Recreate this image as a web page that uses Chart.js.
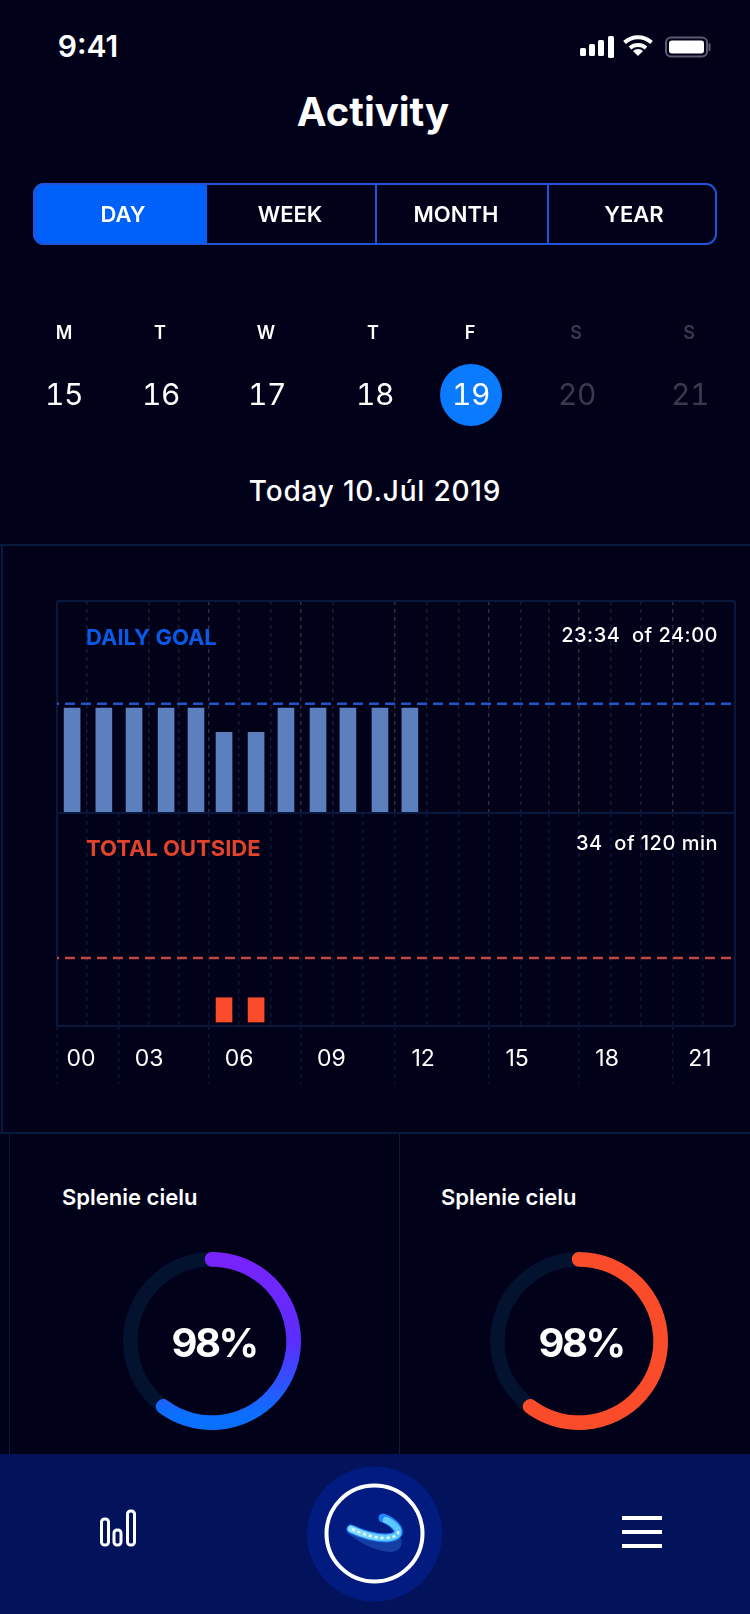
<!DOCTYPE html>
<html>
<head>
<meta charset="utf-8">
<title>Activity</title>
<script src="https://cdn.jsdelivr.net/npm/chart.js@4"></script>
<style>
  html, body { margin: 0; padding: 0; background: #01011a; }
  #page { position: relative; width: 750px; height: 1614px; overflow: hidden; background: #01011a; color: #fff; font-family: Inter, sans-serif; }
  .t { position: absolute; white-space: nowrap; line-height: 1; transform: translate(-50%, -50%); }
  .l { position: absolute; white-space: nowrap; line-height: 1; transform: translateY(-50%); }
  .r { position: absolute; white-space: nowrap; line-height: 1; transform: translate(-100%, -50%); }
  .rule { position: absolute; background: #0a1a3c; }
  canvas { position: absolute; }
  svg { position: absolute; left: 0; top: 0; }
  #tabs { position: absolute; left: 33px; top: 183px; width: 684px; height: 62px; box-sizing: border-box; border: 2px solid #1f55d5; border-radius: 11px; }
  #activeTab { position: absolute; left: 33px; top: 183px; width: 174px; height: 62px; background: #0060fa; border-radius: 11px 0 0 11px; }
  #nav { position: absolute; left: 0; top: 1454px; width: 750px; height: 160px; background: #02135b; }
</style>
</head>
<body>
<div id="page">
  <div class="t" style="left:88px;top:46px;font-size:30px;font-weight:600">9:41</div>
  <div class="t" style="left:373px;top:112px;font-size:40px;font-weight:700">Activity</div>

  <div id="activeTab"></div>
  <div id="tabs"></div>
  <div class="rule" style="left:375px;top:183px;width:2px;height:62px;background:#1f55d5"></div>
  <div class="rule" style="left:547px;top:183px;width:2px;height:62px;background:#1f55d5"></div>

  <div style="position:absolute;left:440px;top:364px;width:62px;height:62px;border-radius:50%;background:#0a7aff"></div>

  <div class="t" style="left:375px;top:491px;font-size:28px;font-weight:500;letter-spacing:.8px">Today 10.Júl 2019</div>

  <!-- section frames -->
  <div class="rule" style="left:0;top:544px;width:750px;height:2px"></div>
  <div class="rule" style="left:1px;top:544px;width:2px;height:588px"></div>
  <div class="rule" style="left:0;top:1132px;width:750px;height:2px"></div>
  <div class="rule" style="left:9px;top:1132px;width:1px;height:322px"></div>
  <div class="rule" style="left:399px;top:1132px;width:1px;height:322px"></div>

  <canvas id="goal-chart" width="710" height="224" style="left:40px;top:590px"></canvas>
  <canvas id="outside-chart" width="710" height="300" style="left:40px;top:803px"></canvas>

  <div class="l" style="left:86px;top:637px;font-size:22px;font-weight:700;color:#0a5ae6">DAILY GOAL</div>
  <div class="r" style="left:718px;top:635px;font-size:20px;font-weight:500;letter-spacing:.5px">23:34&nbsp; of 24:00</div>
  <div class="l" style="left:86px;top:848px;font-size:22px;font-weight:700;color:#e2432c">TOTAL OUTSIDE</div>
  <div class="r" style="left:718px;top:843px;font-size:20px;font-weight:500;letter-spacing:.5px">34&nbsp; of 120 min</div>

  <div class="l" style="left:62px;top:1197px;font-size:22px;font-weight:600">Splenie cielu</div>
  <div class="l" style="left:441px;top:1197px;font-size:22px;font-weight:600">Splenie cielu</div>

  <canvas id="ring-one" width="200" height="200" style="left:112px;top:1241px"></canvas>
  <canvas id="ring-two" width="200" height="200" style="left:479px;top:1241px"></canvas>
  <div class="t" style="left:214px;top:1343px;font-size:40px;font-weight:700;letter-spacing:-2.5px">98%</div>
  <div class="t" style="left:581px;top:1343px;font-size:40px;font-weight:700;letter-spacing:-2.5px">98%</div>

  <div id="nav"></div>

  <svg width="750" height="1614" viewBox="0 0 750 1614">
    <defs>
      <linearGradient id="tray" x1="0" y1="0" x2="1" y2="0">
        <stop offset="0" stop-color="#8fe0ff"/>
        <stop offset="1" stop-color="#55c4ff"/>
      </linearGradient>
    </defs>
    <!-- status bar -->
    <rect x="580" y="48" width="6" height="8" rx="1.5" fill="#fff"/>
    <rect x="589" y="44" width="6" height="12" rx="1.5" fill="#fff"/>
    <rect x="598" y="40" width="6" height="16" rx="1.5" fill="#fff"/>
    <rect x="608" y="36" width="6" height="22" rx="1.5" fill="#fff"/>
    <path d="M624.5 42.5 A20 20 0 0 1 651.5 42.5" fill="none" stroke="#fff" stroke-width="4"/>
    <path d="M630 48 A12.5 12.5 0 0 1 646 48" fill="none" stroke="#fff" stroke-width="4"/>
    <path d="M638 56 L633 51 A7 7 0 0 1 643 51 Z" fill="#fff"/>
    <rect x="666" y="37.5" width="41" height="19" rx="5" fill="none" stroke="#5a5a70" stroke-width="2"/>
    <rect x="669" y="40.5" width="35" height="13" rx="3" fill="#fff"/>
    <rect x="708.5" y="43" width="2" height="8" rx="1" fill="#5a5a70"/>
    <!-- nav bar -->
    <circle cx="374.5" cy="1534" r="67.5" fill="#021b80"/>
    <circle cx="374.5" cy="1533.5" r="48" fill="none" stroke="#fff" stroke-width="4"/>
    <path d="M347 1533 Q372 1552 392 1552 Q404 1550 401 1538 L386 1541 L351 1529 Z" fill="#1c4bb0" opacity=".75"/>
    <path d="M351 1529 Q370 1538 386 1538 Q402 1537 397 1528 Q392 1521 383 1518" fill="none" stroke="#1f86ff" stroke-width="9" stroke-linecap="round"/>
    <path d="M351 1529 Q370 1538 386 1538 Q402 1537 397 1528 Q392 1522 386 1520" fill="none" stroke="url(#tray)" stroke-width="6.5" stroke-linecap="round"/>
    <path d="M352 1529 Q370 1538 386 1538 Q402 1537 397 1528" fill="none" stroke="#e2f9ff" stroke-width="2.5" stroke-dasharray="3 3"/>
    <rect x="101.5" y="1519" width="7" height="26" rx="3" fill="none" stroke="#fff" stroke-width="3"/>
    <rect x="114" y="1530" width="7" height="15" rx="3" fill="none" stroke="#fff" stroke-width="3"/>
    <rect x="127.5" y="1511" width="7" height="34" rx="3" fill="none" stroke="#fff" stroke-width="3"/>
    <rect x="622" y="1516" width="40" height="4" fill="#fff"/>
    <rect x="622" y="1530" width="40" height="4" fill="#fff"/>
    <rect x="622" y="1544" width="40" height="4" fill="#fff"/>
  </svg>
</div>

<script>
'use strict';

// **** Data ****

let tabNames = ['DAY', 'WEEK', 'MONTH', 'YEAR'];
let dayLetters = ['M', 'T', 'W', 'T', 'F', 'S', 'S'];
let dayNumbers = ['15', '16', '17', '18', '19', '20', '21'];

// x positions on a 0-22 slot axis, the sketch does not space them evenly
let barSlots = [0.49, 1.52, 2.5, 3.54, 4.51, 5.42, 6.46, 7.43, 8.47, 9.44, 10.48, 11.45];
let goalValues = [60, 60, 60, 60, 60, 46, 46, 60, 60, 60, 60, 60];
let outsideValues = [null, null, null, null, null, 14, 14, null, null, null, null, null];

let lineSlots = [0, 22];
let goalLine = [62.5, 62.5];
let outsideLine = [37, 37];

let gridSlots = [0, 0.97, 2.01, 2.99, 3.96, 4.93, 5.91, 6.94, 7.92, 8.96, 9.93, 10.97, 12, 13.04, 14.02, 15.06, 15.96, 16.94, 17.98, 18.95, 19.99, 20.96, 22];
let longSlots = [0, 2.01, 4.93, 7.92, 10.97, 14.02, 16.94, 19.99];
let goalHiddenSlots = [2.01, 9.93];

let hourLabels = ['00', '03', '06', '09', '12', '15', '18', '21'];
let hourSlots = [0.78, 2.99, 5.91, 8.9, 11.88, 14.93, 17.85, 20.86];

let ringOneValues = [63, 37];
let ringTwoValues = [63, 37];

// **** Colors ****

let frameColor = '#09173a';
let trackColor = '#03132f';

// **** Text built from the lists ****

let page = document.getElementById('page');

function addText(text, x, y, style) {
  let el = document.createElement('div');
  el.className = 't';
  el.textContent = text;
  el.style.cssText = `left:${x}px;top:${y}px;${style}`;
  page.appendChild(el);
}

let tabCentres = [123, 290, 456, 634];
tabNames.forEach((name, i) => addText(name, tabCentres[i], 214, 'font-size:22px;font-weight:600'));

let letterCentres = [64, 160, 266, 373, 470, 576, 689];
let numberCentres = [64, 161, 267, 375, 471, 577, 690];
dayLetters.forEach((letter, i) => {
  let color = i > 4 ? '#3a3a4e' : '#fff';
  addText(letter, letterCentres[i], 333, `font-size:18px;font-weight:600;color:${color}`);
  addText(dayNumbers[i], numberCentres[i], 394, `font-size:30px;font-weight:400;letter-spacing:-.5px;font-variant-numeric:tabular-nums;color:${color}`);
});

// **** Shared helpers ****

function slotTicks(scale, slots) {
  scale.ticks = [...new Set(slots)].sort((a, b) => a - b).map((value) => ({ value: value }));
}

function edgeDash(ctx) {
  return ctx.tick.value === 0 || ctx.tick.value === 22 ? [] : [4, 4];
}

function yScale(min, max) {
  return {
    min: min,
    max: max,
    ticks: { display: false },
    grid: { color: frameColor, lineWidth: 2, drawTicks: false },
    border: { display: false },
    afterBuildTicks: (scale) => { scale.ticks = [{ value: min }, { value: max }]; },
    afterFit: (scale) => { scale.width = 0; }
  };
}

function panelDatasets(values, barColor, lineValues, lineColor) {
  return [
    {
      type: 'line',
      data: lineSlots.map((slot, i) => ({ x: slot, y: lineValues[i] })),
      borderColor: lineColor,
      borderWidth: 2.5,
      borderDash: [10, 6],
      borderDashOffset: 8,
      pointRadius: 0,
      order: 0
    },
    {
      type: 'bar',
      data: barSlots.map((slot, i) => ({ x: slot, y: values[i] })),
      backgroundColor: barColor,
      barThickness: 16,
      order: 1
    }
  ];
}

// **** Daily goal chart ****

new Chart(document.getElementById('goal-chart').getContext('2d'), {
  type: 'bar',
  data: { datasets: panelDatasets(goalValues, '#5c7fbd', goalLine, '#2355c9') },
  options: {
    responsive: false,
    animation: false,
    layout: { padding: { left: 17, right: 15, top: 11, bottom: 1 } },
    plugins: { legend: { display: false }, tooltip: { enabled: false } },
    scales: {
      x: {
        type: 'linear',
        min: 0,
        max: 22,
        offset: false,
        ticks: { display: false },
        afterBuildTicks: (scale) => slotTicks(scale, gridSlots),
        afterFit: (scale) => { scale.height = 0; },
        border: { display: false, dash: edgeDash },
        grid: {
          offset: false,
          drawTicks: false,
          lineWidth: (ctx) => (ctx.tick.value === 0 || ctx.tick.value === 22 ? 2 : 1.5),
          color: (ctx) => {
            let value = ctx.tick.value;
            if (value === 0 || value === 22) return frameColor;
            if (goalHiddenSlots.includes(value)) return 'transparent';
            return longSlots.includes(value) ? '#302d42' : '#1b1b38';
          }
        }
      },
      y: yScale(-0.58, 121.7)
    }
  }
});

// **** Total outside chart ****

new Chart(document.getElementById('outside-chart').getContext('2d'), {
  type: 'bar',
  data: { datasets: panelDatasets(outsideValues, '#fa4b2a', outsideLine, '#c5463e') },
  options: {
    responsive: false,
    animation: false,
    layout: { padding: { left: 17, right: 15, top: 10, bottom: 7 } },
    plugins: { legend: { display: false }, tooltip: { enabled: false } },
    scales: {
      x: {
        type: 'linear',
        min: 0,
        max: 22,
        offset: false,
        afterBuildTicks: (scale) => slotTicks(scale, gridSlots.concat(hourSlots)),
        afterFit: (scale) => { scale.height = 70; },
        ticks: {
          autoSkip: false,
          maxRotation: 0,
          padding: -39,
          color: '#fff',
          font: { family: 'Inter', size: 23 },
          callback: (value) => {
            let i = hourSlots.indexOf(value);
            return i >= 0 ? hourLabels[i] : '';
          }
        },
        border: { display: false, dash: edgeDash },
        grid: {
          offset: false,
          tickLength: 58,
          tickWidth: 1.5,
          tickBorderDash: [4, 4],
          tickColor: (ctx) => (longSlots.includes(ctx.tick.value) ? frameColor : 'transparent'),
          lineWidth: (ctx) => (ctx.tick.value === 0 || ctx.tick.value === 22 ? 2 : 1.5),
          color: (ctx) => (gridSlots.includes(ctx.tick.value) ? frameColor : 'transparent')
        }
      },
      y: yScale(-2.3, 120.6)
    }
  }
});

// **** Rings ****

// full circle behind the progress arc
let ringTrack = {
  id: 'ringTrack',
  beforeDatasetsDraw(chart) {
    let arc = chart.getDatasetMeta(0).data[0];
    let ctx = chart.ctx;
    ctx.save();
    ctx.beginPath();
    ctx.arc(arc.x, arc.y, (arc.innerRadius + arc.outerRadius) / 2, 0, Math.PI * 2);
    ctx.lineWidth = arc.outerRadius - arc.innerRadius;
    ctx.strokeStyle = trackColor;
    ctx.stroke();
    ctx.restore();
  }
};

function renderRing(id, values, color) {
  new Chart(document.getElementById(id).getContext('2d'), {
    type: 'doughnut',
    data: {
      datasets: [{
        data: values,
        backgroundColor: [color, 'transparent'],
        borderWidth: 0,
        borderRadius: 7
      }]
    },
    options: {
      responsive: false,
      animation: false,
      radius: 89,
      cutout: '83.5%',
      rotation: -5,
      plugins: { legend: { display: false }, tooltip: { enabled: false } }
    },
    plugins: [ringTrack]
  });
}

let ringGradient = document.getElementById('ring-one').getContext('2d').createLinearGradient(0, 11, 0, 175);
ringGradient.addColorStop(0, '#7a22fa');
ringGradient.addColorStop(0.55, '#5a2eff');
ringGradient.addColorStop(1, '#0a70ff');

renderRing('ring-one', ringOneValues, ringGradient);
renderRing('ring-two', ringTwoValues, '#fa4b2a');
</script>
</body>
</html>
